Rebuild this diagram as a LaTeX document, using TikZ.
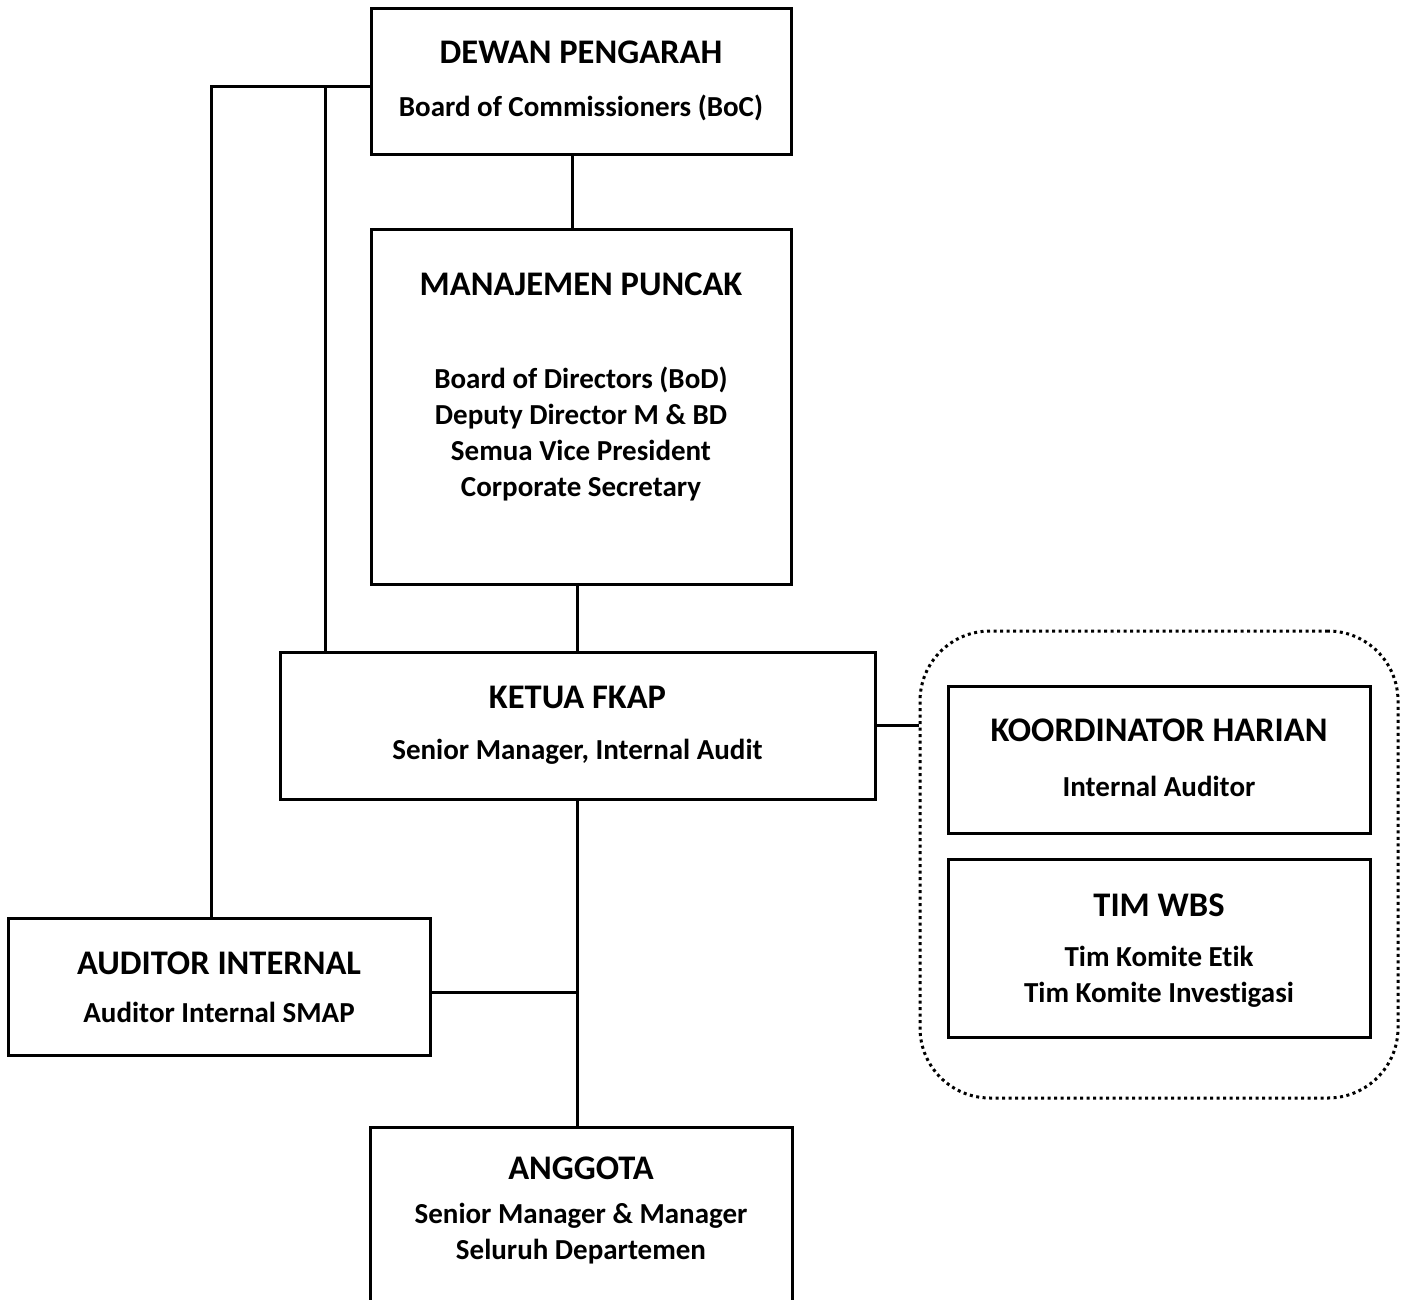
\documentclass[tikz,border=0pt]{standalone}
\usepackage{fontspec}
\setmainfont{Carlito}[Ligatures=NoCommon]
\usetikzlibrary{calc}

\begin{document}
\begin{tikzpicture}[x=1pt, y=-1pt, line width=3pt,
    box/.style={draw, rectangle, inner sep=0pt, minimum width=422pt},
    head/.style={font=\fontsize{34.5}{40}\selectfont\bfseries},
    sub/.style={font=\fontsize{29}{36}\selectfont\bfseries, align=center}]
\useasboundingbox[fill=white] (0,0) rectangle (1405,1300);
% boxes
\node[box, minimum width=420pt, minimum height=146pt] (dewan)     at (581,82)     {};
\node[box, minimum width=420pt, minimum height=355pt] (manajemen) at (581,406.5)  {};
\node[box, minimum width=595pt, minimum height=147pt] (ketua)     at (577.5,725.5){};
\node[box, minimum height=137pt]                      (auditor)   at (219,986.5)  {};
\node[box, minimum height=190pt]                      (anggota)   at (581,1222)   {};
\node[draw, rounded corners=70pt, line width=3pt, dash pattern=on 3pt off 3.5pt,
      minimum width=478pt, minimum height=467pt]     (group)     at (1159,864.5) {};
\node[box, minimum height=147pt]                      (koord)     at (1159,759.5) {};
\node[box, minimum height=178pt]                      (timwbs)    at (1159,948)   {};
% texts
\node[head] (dewan-h)     at (581,52)     {DEWAN PENGARAH};
\node[sub]  (dewan-s)     at (581,108)    {Board of Commissioners (BoC)};
\node[head] (manajemen-h) at (581,284)    {MANAJEMEN PUNCAK};
\node[sub]  (manajemen-s) at (581,434)    {Board of Directors (BoD)\\Deputy Director M \& BD\\Semua Vice President\\Corporate Secretary};
\node[head] (ketua-h)     at (577.5,697)  {KETUA FKAP};
\node[sub]  (ketua-s)     at (577.5,752)  {Senior Manager, Internal Audit};
\node[head] (auditor-h)   at (219,963)    {AUDITOR INTERNAL};
\node[sub]  (auditor-s)   at (219,1012)   {Auditor Internal SMAP};
\node[head] (anggota-h)   at (581,1168)   {ANGGOTA};
\node[sub]  (anggota-s)   at (581,1234)   {Senior Manager \& Manager\\Seluruh Departemen};
\node[head] (koord-h)     at (1159,730)   {KOORDINATOR HARIAN};
\node[sub]  (koord-s)     at (1159,786)   {Internal Auditor};
\node[head] (timwbs-h)    at (1159,905)   {TIM WBS};
\node[sub]  (timwbs-s)    at (1159,977)   {Tim Komite Etik\\Tim Komite Investigasi};
% connectors
\coordinate (busA) at (211,87);
\coordinate (busB) at (325,87);
\draw ([xshift=-9pt]dewan.south) -- ([xshift=-9pt]manajemen.north);
\draw (ketua.north |- manajemen.south) -- (ketua.north);
\draw (ketua.south) -- (ketua.south |- anggota.north);
\draw ([yshift=-6pt]auditor.east) -- ([yshift=-6pt]auditor.east -| ketua.south);
\draw (ketua.east) -- (ketua.east -| group.west);
\draw (busA -| dewan.west) -- (busA) -- (busA |- auditor.north);
\draw (busB) -- (busB |- ketua.north);
\end{tikzpicture}
\end{document}
